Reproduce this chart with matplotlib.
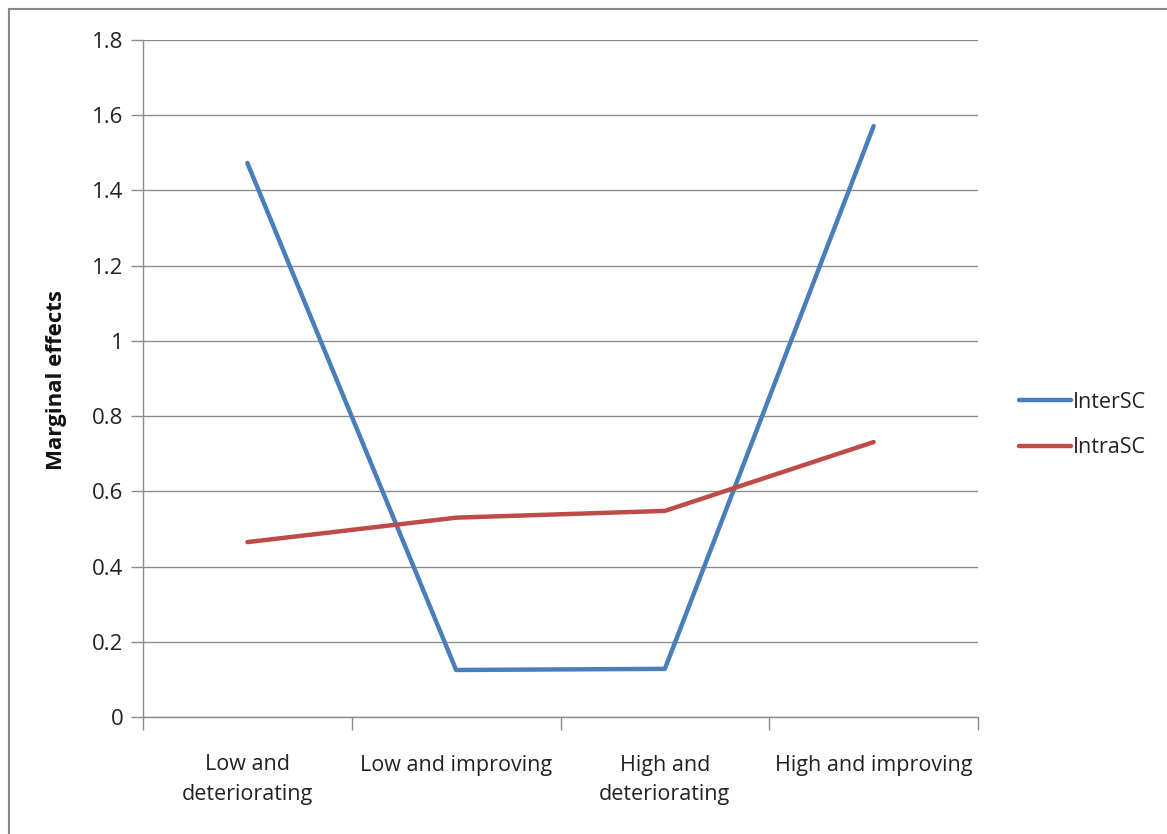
import matplotlib
matplotlib.use("Agg")
import matplotlib.pyplot as plt
from matplotlib.patches import Rectangle

categories = ["Low and\ndeteriorating", "Low and improving", "High and\ndeteriorating", "High and improving"]
inter_sc = [1.473, 0.125, 0.128, 1.571]
intra_sc = [0.465, 0.530, 0.548, 0.731]
series_names = ["InterSC", "IntraSC"]
y_ticks = [0, 0.2, 0.4, 0.6, 0.8, 1, 1.2, 1.4, 1.6, 1.8]
y_tick_labels = ["0", "0.2", "0.4", "0.6", "0.8", "1", "1.2", "1.4", "1.6", "1.8"]

plt.rcParams['font.family'] = ['Open Sans', 'DejaVu Sans']

W, H = 1167, 834
fig = plt.figure(figsize=(W/100, H/100), dpi=100)
ax = fig.add_axes([143/W, 1-717/H, (978-143)/W, (717-40)/H])

blue = "#4a7ebb"
red = "#be4b48"
x = list(range(len(categories)))
l1, = ax.plot(x, inter_sc, color=blue, lw=3.2, solid_capstyle='round')
l2, = ax.plot(x, intra_sc, color=red, lw=3.2, solid_capstyle='round')

ax.set_xlim(-0.5, len(categories)-0.5)
ax.set_ylim(0, 1.8)
ax.set_yticks(y_ticks)
ax.set_yticklabels(y_tick_labels)
ax.set_xticks(x)
ax.set_xticklabels(categories, linespacing=1.55)
ax.set_xticks([i-0.5 for i in range(len(categories)+1)], minor=True)
ax.tick_params(axis='x', which='major', length=0, pad=27, labelsize=15.5, colors='#222222')
ax.tick_params(axis='x', which='minor', length=9, width=1, color='#8c8c8c', direction='out')
ax.tick_params(axis='y', length=9, width=1, color='#8c8c8c', pad=5, labelsize=16, labelcolor='#222222')

ax.grid(axis='y', color='#8c8c8c', lw=1)
ax.set_axisbelow(True)
for s in ['top', 'right']:
    ax.spines[s].set_visible(False)
for s in ['left', 'bottom']:
    ax.spines[s].set_color('#8c8c8c')
    ax.spines[s].set_linewidth(1)

fig.text(57/W, 1-380/H, "Marginal effects", rotation=90, ha='center', va='center',
         fontsize=16, fontweight='bold', color='#111111')

leg = fig.legend([l1, l2], series_names, loc='center left',
                 bbox_to_anchor=(1000/W, 1-425/H), frameon=False,
                 fontsize=15.5, handlelength=2.4, handletextpad=0.1, labelspacing=1.15)
for t in leg.get_texts():
    t.set_color('#222222')

fig.patches.append(Rectangle((9/W, -0.1), 1.2, 1-9/H+0.1, transform=fig.transFigure,
                             fill=False, edgecolor='#888888', lw=1.5))

fig.savefig("out.png", dpi=100)
